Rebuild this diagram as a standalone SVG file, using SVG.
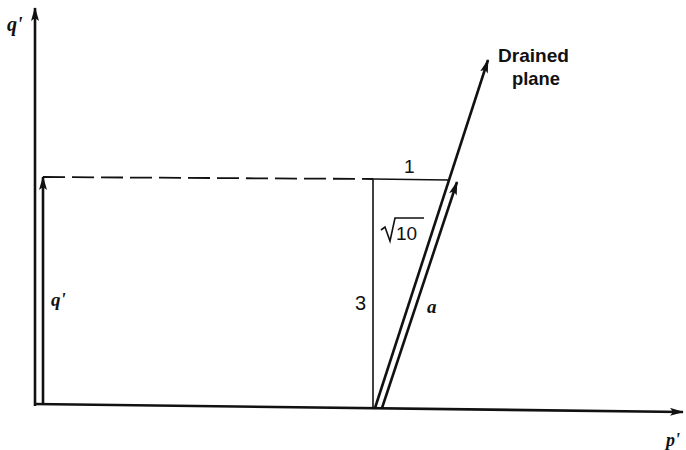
<svg xmlns="http://www.w3.org/2000/svg" width="686" height="450" viewBox="0 0 686 450">
<defs>
<style>
.ax{stroke:#111;stroke-width:2.6;fill:none}
.thin{stroke:#111;stroke-width:1.6;fill:none}
.it{font-family:"Liberation Serif",serif;font-style:italic;font-weight:bold;fill:#111}
.sn{font-family:"Liberation Sans",sans-serif;fill:#111}
</style>
<marker id="ah" viewBox="0 0 14 8" refX="13" refY="4" markerWidth="14" markerHeight="8" markerUnits="userSpaceOnUse" orient="auto">
<path d="M0,0 L14,4 L0,8 L3,4 Z" fill="#111"/>
</marker>
</defs>
<rect width="686" height="450" fill="#fff"/>
<g id="connectors">
<line id="q-axis" class="ax" x1="35" y1="406" x2="35" y2="8" marker-end="url(#ah)"/>
<line id="p-axis" class="ax" x1="34" y1="404" x2="683" y2="412" marker-end="url(#ah)"/>
<line id="q-vector" class="ax" x1="43" y1="404" x2="43" y2="177" marker-end="url(#ah)"/>
<line id="dashed" stroke="#111" stroke-width="1.8" stroke-dasharray="22 7" x1="43" y1="177" x2="373" y2="179"/>
<line id="top-solid" class="thin" x1="373" y1="179" x2="448" y2="180"/>
<line id="vert-3" class="thin" x1="373" y1="179" x2="373" y2="408"/>
<line id="drained-plane" class="ax" x1="375" y1="408" x2="488" y2="60" marker-end="url(#ah)"/>
<line id="a-vector" class="ax" x1="382" y1="408" x2="457" y2="182" marker-end="url(#ah)"/>
<path id="radical" class="thin" d="M381,230 L385,227 L390,241 L395,218 L424,218"/>
</g>
<g id="labels">
<text class="it" x="7" y="31" font-size="20">q'</text>
<text class="it" x="666" y="446" font-size="18">p'</text>
<text class="it" x="51" y="306" font-size="19">q'</text>
<text class="it" x="427" y="313" font-size="19">a</text>
<text class="sn" x="355" y="310" font-size="20">3</text>
<text class="sn" x="404" y="173" font-size="19">1</text>
<text class="sn" x="396" y="240" font-size="19">10</text>
<g id="drained-label">
<text class="sn" x="498" y="62" font-size="19" font-weight="bold" textLength="71" lengthAdjust="spacingAndGlyphs">Drained</text>
<text class="sn" x="512" y="85" font-size="19" font-weight="bold" textLength="48" lengthAdjust="spacingAndGlyphs">plane</text>
</g>
</g>
</svg>
